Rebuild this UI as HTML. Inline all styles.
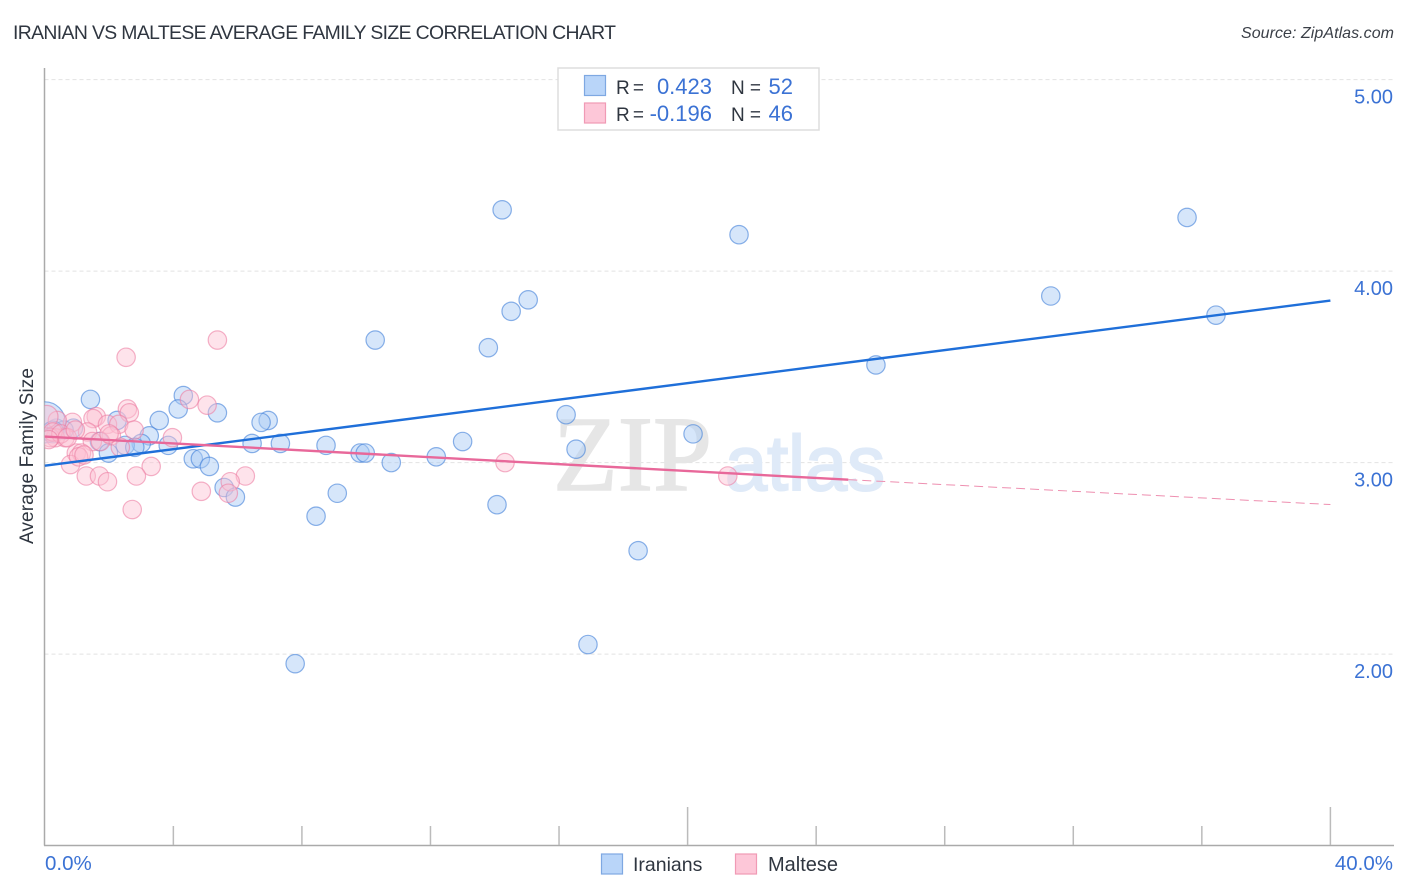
<!DOCTYPE html>
<html>
<head>
<meta charset="utf-8">
<title>Iranian vs Maltese Average Family Size Correlation Chart</title>
<style>
html,body{margin:0;padding:0;background:#fff;}
svg{display:block;font-family:"Liberation Sans",sans-serif;}
</style>
</head>
<body>
<svg id="chart" xmlns="http://www.w3.org/2000/svg" width="1406" height="892" viewBox="0 0 1406 892">
  <defs><clipPath id="plot-clip"><rect x="44.5" y="60" width="1350" height="785"/></clipPath></defs>
  <rect x="0" y="0" width="1406" height="892" fill="#ffffff"/>
  <text x="13" y="39" font-size="19.4" fill="#2f3640" textLength="603" lengthAdjust="spacing">IRANIAN VS MALTESE AVERAGE FAMILY SIZE CORRELATION CHART</text>
  <text x="1394" y="38" font-size="16" font-style="italic" fill="#3a3f47" text-anchor="end" textLength="153" lengthAdjust="spacing">Source: ZipAtlas.com</text>
  <g id="grid"></g>
  <text x="553" y="490" font-family="'Liberation Serif',serif" font-size="107" fill="#e6e6e6" stroke="#e6e6e6" stroke-width="1.5" textLength="159" lengthAdjust="spacingAndGlyphs">ZIP</text>
  <text x="725" y="490" font-size="78" fill="#dfeaf8" stroke="#dfeaf8" stroke-width="2" textLength="160" lengthAdjust="spacingAndGlyphs">atlas</text>
  <g id="axes"></g>
  <g id="iranian-points" clip-path="url(#plot-clip)"></g>
  <g id="maltese-points" clip-path="url(#plot-clip)"></g>
  <g id="trends"></g>
  <g id="labels"></g>
  <text transform="translate(33,456) rotate(-90)" font-size="19" fill="#2f3640" text-anchor="middle" textLength="176" lengthAdjust="spacing">Average Family Size</text>
  <g>
    <rect x="558" y="68" width="261" height="62" fill="#ffffff" stroke="#dddddd" stroke-width="1.5"/>
    <rect x="584.5" y="75.5" width="21" height="20" fill="#b9d5f9" stroke="#7ea8e2" stroke-width="1.2"/>
    <rect x="584.5" y="103" width="21" height="20" fill="#fdc7d8" stroke="#f09ab5" stroke-width="1.2"/>
    <text x="616" y="94" font-size="19" fill="#2f3640" textLength="28" lengthAdjust="spacing">R =</text>
    <text x="712" y="94" font-size="22" fill="#3b72d4" text-anchor="end">0.423</text>
    <text x="731" y="94" font-size="19" fill="#2f3640" textLength="30" lengthAdjust="spacing">N =</text>
    <text x="793" y="94" font-size="22" fill="#3b72d4" text-anchor="end">52</text>
    <text x="616" y="121" font-size="19" fill="#2f3640" textLength="28" lengthAdjust="spacing">R =</text>
    <text x="712" y="121" font-size="22" fill="#3b72d4" text-anchor="end">-0.196</text>
    <text x="731" y="121" font-size="19" fill="#2f3640" textLength="30" lengthAdjust="spacing">N =</text>
    <text x="793" y="121" font-size="22" fill="#3b72d4" text-anchor="end">46</text>
  </g>
  <g>
    <rect x="601.5" y="854" width="21" height="20" fill="#b9d5f9" stroke="#7ea8e2" stroke-width="1.2"/>
    <text x="633" y="871" font-size="19.5" fill="#2f3640">Iranians</text>
    <rect x="735.5" y="854" width="21" height="20" fill="#fdc7d8" stroke="#f09ab5" stroke-width="1.2"/>
    <text x="768" y="871" font-size="20" fill="#2f3640">Maltese</text>
  </g>
</svg>
<script>
const yTicks = [5, 4, 3, 2];
const yTickLabels = ["5.00", "4.00", "3.00", "2.00"];
const xTicks = [0, 4, 8, 12, 16, 20, 24, 28, 32, 36, 40];
const xTickLabels = ["0.0%", "40.0%"];

const iranianX = [14.23, 21.6, 35.54, 31.3, 36.44, 15.04, 14.51, 10.28, 13.8, 25.86, 4.31, 1.42, 4.15, 5.37, 16.22, 3.56, 6.95, 6.73, 2.25, 0.89, 0.36, 0.6, 3.25, 13.0, 20.17, 7.33, 8.75, 6.45, 3.0, 2.5, 1.7, 3.84, 2.8, 1.98, 16.53, 9.81, 9.97, 12.18, 10.78, 4.62, 4.84, 5.12, 5.58, 5.93, 9.1, 14.07, 8.44, 18.46, 16.9, 7.79, 0.0, 0.25];
const iranianY = [4.32, 4.19, 4.28, 3.87, 3.77, 3.85, 3.79, 3.64, 3.6, 3.51, 3.35, 3.33, 3.28, 3.26, 3.25, 3.22, 3.22, 3.21, 3.22, 3.18, 3.18, 3.17, 3.14, 3.11, 3.15, 3.1, 3.09, 3.1, 3.1, 3.09, 3.11, 3.09, 3.08, 3.05, 3.07, 3.05, 3.05, 3.03, 3.0, 3.02, 3.02, 2.98, 2.87, 2.82, 2.84, 2.78, 2.72, 2.54, 2.05, 1.95, 3.21, 3.16];
const iranianWeight = [1, 1, 1, 1, 1, 1, 1, 1, 1, 1, 1, 1, 1, 1, 1, 1, 1, 1, 1, 1, 1, 1, 1, 1, 1, 1, 1, 1, 1, 1, 1, 1, 1, 1, 1, 1, 1, 1, 1, 1, 1, 1, 1, 1, 1, 1, 1, 1, 1, 1, 5, 1.4];

const malteseX = [2.53, 5.37, 4.5, 5.05, 2.57, 2.63, 1.6, 1.5, 0.86, 0.39, 1.95, 2.3, 2.78, 1.33, 3.97, 2.07, 1.48, 1.73, 0.63, 0.33, 0.17, 0.98, 1.14, 0.8, 3.31, 1.29, 1.7, 1.95, 2.85, 6.24, 5.77, 4.87, 5.71, 2.72, 14.32, 21.25, 0.06, 0.25, 0.5, 0.7, 0.95, 2.35, 2.0, 1.05, 1.22, 0.12];
const malteseY = [3.55, 3.64, 3.33, 3.3, 3.28, 3.26, 3.24, 3.23, 3.21, 3.22, 3.2, 3.2, 3.17, 3.16, 3.13, 3.14, 3.11, 3.11, 3.13, 3.13, 3.13, 3.05, 3.05, 2.99, 2.98, 2.93, 2.93, 2.9, 2.93, 2.93, 2.9, 2.85, 2.84, 2.755, 3.0, 2.93, 3.24, 3.16, 3.15, 3.13, 3.17, 3.08, 3.15, 3.03, 3.04, 3.12];
const malteseWeight = [1, 1, 1, 1, 1, 1, 1, 1, 1, 1, 1, 1, 1, 1, 1, 1, 1, 1, 1, 1, 1, 1, 1, 1, 1, 1, 1, 1, 1, 1, 1, 1, 1, 1, 1, 1, 1.5, 1, 1, 1, 1, 1, 1, 1, 1, 1];

const iranianTrendX = [0, 40];
const iranianTrendY = [2.984, 3.846];
const malteseSolidX = [0, 25];
const malteseSolidY = [3.136, 2.911];
const malteseDashX = [25, 40];
const malteseDashY = [2.911, 2.781];

const NS = "http://www.w3.org/2000/svg";
function xScale(v) { return 44.8 + v * 32.14; }
function yScale(v) { return 79.6 + (5 - v) * 191.5; }
function make(tag, attrs, parent) {
  const el = document.createElementNS(NS, tag);
  for (const k in attrs) el.setAttribute(k, attrs[k]);
  parent.appendChild(el);
  return el;
}

const gridLayer = document.getElementById("grid");
const axesLayer = document.getElementById("axes");
const labelLayer = document.getElementById("labels");
const trendLayer = document.getElementById("trends");

yTicks.forEach(function (t, i) {
  const line = make("line", { x1: 44.5, x2: 1394, y1: yScale(t), y2: yScale(t), stroke: "#e2e2e2", "stroke-width": 1, "stroke-dasharray": "4 3" }, gridLayer);
  
  
  const label = make("text", { x: 1393, y: yScale(t) + 24, "font-size": 20, fill: "#3b72d4", "text-anchor": "end" }, labelLayer);
  label.textContent = yTickLabels[i];
  
  
});

const yAxis = make("line", { x1: 44.5, x2: 44.5, y1: 68, y2: 845.5, stroke: "#aaaaaa", "stroke-width": 1.5 }, axesLayer);


const xAxis = make("line", { x1: 44, x2: 1394, y1: 845.5, y2: 845.5, stroke: "#aaaaaa", "stroke-width": 1.5 }, axesLayer);



xTicks.forEach(function (t, i) {
  if (i === 0) return;
  const top = i % 5 === 0 ? 807 : 826;
  const tick = make("line", { x1: xScale(t), x2: xScale(t), y1: top, y2: 845, stroke: "#bbbbbb", "stroke-width": 1.5 }, axesLayer);
  
  
});

const xMin = make("text", { x: 45, y: 870, "font-size": 20.5, fill: "#3b72d4" }, labelLayer);
xMin.textContent = xTickLabels[0];


const xMax = make("text", { x: 1393, y: 870, "font-size": 20.5, fill: "#3b72d4", "text-anchor": "end" }, labelLayer);
xMax.textContent = xTickLabels[1];



const iranianLayer = document.getElementById("iranian-points");
iranianX.forEach(function (v, i) {
  const dot = make("circle", { cx: xScale(v), cy: yScale(iranianY[i]), r: 9.2 * Math.sqrt(iranianWeight[i]), fill: "#a9cbf5", "fill-opacity": 0.48, stroke: "#3f7fd8", "stroke-opacity": 0.6, "stroke-width": 1.2 }, iranianLayer);
  
  
});

const malteseLayer = document.getElementById("maltese-points");
malteseX.forEach(function (v, i) {
  const dot = make("circle", { cx: xScale(v), cy: yScale(malteseY[i]), r: 9.2 * Math.sqrt(malteseWeight[i]), fill: "#fcc0d2", "fill-opacity": 0.45, stroke: "#ec7fa3", "stroke-opacity": 0.6, "stroke-width": 1.2 }, malteseLayer);
  
  
});

const iranianTrend = make("line", { x1: xScale(iranianTrendX[0]), y1: yScale(iranianTrendY[0]), x2: xScale(iranianTrendX[1]), y2: yScale(iranianTrendY[1]), stroke: "#1f6fd9", "stroke-width": 2.4 }, trendLayer);


const malteseSolid = make("line", { x1: xScale(malteseSolidX[0]), y1: yScale(malteseSolidY[0]), x2: xScale(malteseSolidX[1]), y2: yScale(malteseSolidY[1]), stroke: "#e8689a", "stroke-width": 2.4 }, trendLayer);


const malteseDash = make("line", { x1: xScale(malteseDashX[0]), y1: yScale(malteseDashY[0]), x2: xScale(malteseDashX[1]), y2: yScale(malteseDashY[1]), stroke: "#ee8fb0", "stroke-width": 1, "stroke-dasharray": "9 5" }, trendLayer);


</script>
</body>
</html>
